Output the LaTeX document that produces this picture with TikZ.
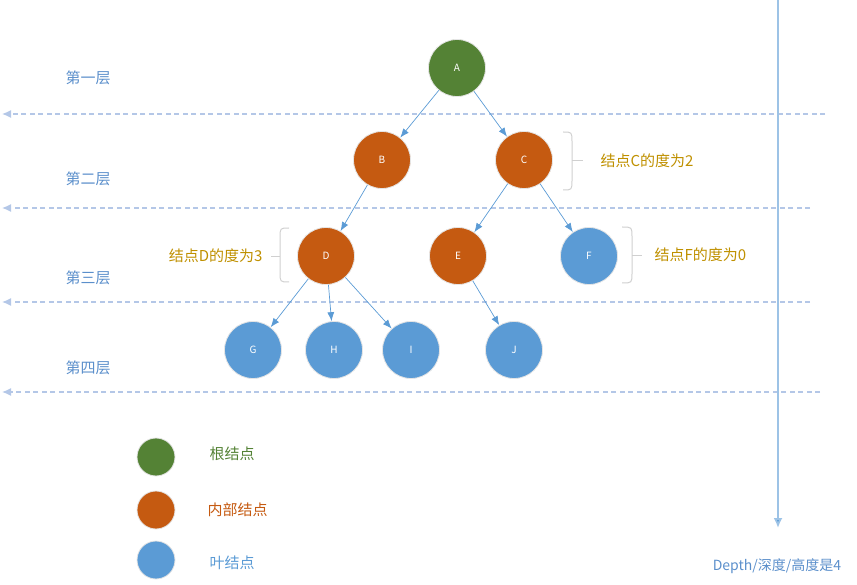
\documentclass[tikz,border=0pt]{standalone}
\usepackage{fontspec}
\setmainfont{Noto Sans CJK SC}
\usetikzlibrary{arrows.meta}
\definecolor{rootgreen}{HTML}{548235}
\definecolor{innerorange}{HTML}{C55A11}
\definecolor{leafblue}{HTML}{5B9BD5}
\definecolor{levelline}{HTML}{B4C7E7}
\definecolor{depthline}{HTML}{9DC3E6}
\definecolor{levelblue}{HTML}{5B8FCB}
\definecolor{notegold}{HTML}{BF9000}
\definecolor{bracegray}{HTML}{D0D0D0}
\tikzset{
  treenode/.style={circle, minimum size=57pt, inner sep=0pt, draw=black!10, line width=0.8pt,
    text=white, font=\fontsize{10}{12}\selectfont},
  rootnode/.style={treenode, fill=rootgreen},
  innernode/.style={treenode, fill=innerorange},
  leafnode/.style={treenode, fill=leafblue},
  legendnode/.style={circle, minimum size=38pt, inner sep=0pt, draw=black!10, line width=0.8pt},
  edge/.style={draw=leafblue, line width=0.7pt, -{Latex[length=9pt,width=7pt]}},
  levelsep/.style={draw=levelline, line width=1.3pt, dash pattern=on 5pt off 3.5pt,
    -{Latex[length=9pt,width=8pt,fill=levelline]}},
  levellabel/.style={text=levelblue, font=\fontsize{15}{18}\selectfont},
  note/.style={text=notegold, font=\fontsize{15}{18}\selectfont},
  bracket/.style={draw=bracegray, line width=1pt},
  legendtext/.style={font=\fontsize{15}{18}\selectfont}
}
\begin{document}
\begin{tikzpicture}[x=1pt,y=-1pt]
\useasboundingbox (0,0) rectangle (857,585);

% level separators (arrow pointing left)
\coordinate (s1r) at (825,114); \coordinate (s1l) at (2,114);
\coordinate (s2r) at (810,208); \coordinate (s2l) at (2,208);
\coordinate (s3r) at (810,302); \coordinate (s3l) at (2,302);
\coordinate (s4r) at (820,392); \coordinate (s4l) at (2,392);
\draw[levelsep] (s1r) -- (s1l);
\draw[levelsep] (s2r) -- (s2l);
\draw[levelsep] (s3r) -- (s3l);
\draw[levelsep] (s4r) -- (s4l);

% depth axis
\coordinate (dtop) at (778,0);
\coordinate (dbot) at (778,528);
\draw[draw=depthline, line width=1.8pt, -{Latex[length=10pt,width=9pt,fill=leafblue]}] (dtop) -- (dbot);
\node[text=levelblue, font=\fontsize{14}{17}\selectfont] (depth) at (777,566) {Depth/深度/高度是4};

% level labels
\node[levellabel] (l1) at (88,78) {第一层};
\node[levellabel] (l2) at (88,179) {第二层};
\node[levellabel] (l3) at (88,278) {第三层};
\node[levellabel] (l4) at (88,368) {第四层};

% tree nodes
\node[rootnode]  (A) at (457,68)  {A};
\node[innernode] (B) at (382,160) {B};
\node[innernode] (C) at (524,160) {C};
\node[innernode] (D) at (326,256) {D};
\node[innernode] (E) at (458,256) {E};
\node[leafnode]  (F) at (589,256) {F};
\node[leafnode]  (G) at (253,350) {G};
\node[leafnode]  (H) at (334,350) {H};
\node[leafnode]  (I) at (411,350) {I};
\node[leafnode]  (J) at (514,350) {J};

% edges
\draw[edge] (A) -- (B);
\draw[edge] (A) -- (C);
\draw[edge] (B) -- (D);
\draw[edge] (C) -- (E);
\draw[edge] (C) -- (F);
\draw[edge] (D) -- (G);
\draw[edge] (D) -- (H);
\draw[edge] (D) -- (I);
\draw[edge] (E) -- (J);

% degree brackets
\draw[bracket] (563,132) .. controls (572,132) .. (572,142) -- (572,180) .. controls (572,190) .. (563,190);
\draw[bracket] (572,161) -- (583,161);
\node[note, anchor=west] (nC) at (597,161) {结点C的度为2};

\draw[bracket] (622,227) .. controls (632,227) .. (632,237) -- (632,273) .. controls (632,283) .. (622,283);
\draw[bracket] (632,256) -- (642,256);
\node[note, anchor=west] (nF) at (651,255) {结点F的度为0};

\draw[bracket] (289,228) .. controls (280,228) .. (280,238) -- (280,272) .. controls (280,282) .. (289,282);
\draw[bracket] (280,257) -- (271,257);
\node[note, anchor=east] (nD) at (266,256) {结点D的度为3};

% legend
\node[legendnode, fill=rootgreen]   (k1) at (156,457) {};
\node[legendnode, fill=innerorange] (k2) at (156,510) {};
\node[legendnode, fill=leafblue]    (k3) at (156,560) {};
\node[legendtext, text=rootgreen, anchor=west]   (t1) at (206,454) {根结点};
\node[legendtext, text=innerorange, anchor=west] (t2) at (204,510) {内部结点};
\node[legendtext, text=leafblue, anchor=west]    (t3) at (206,563) {叶结点};
\end{tikzpicture}
\end{document}
